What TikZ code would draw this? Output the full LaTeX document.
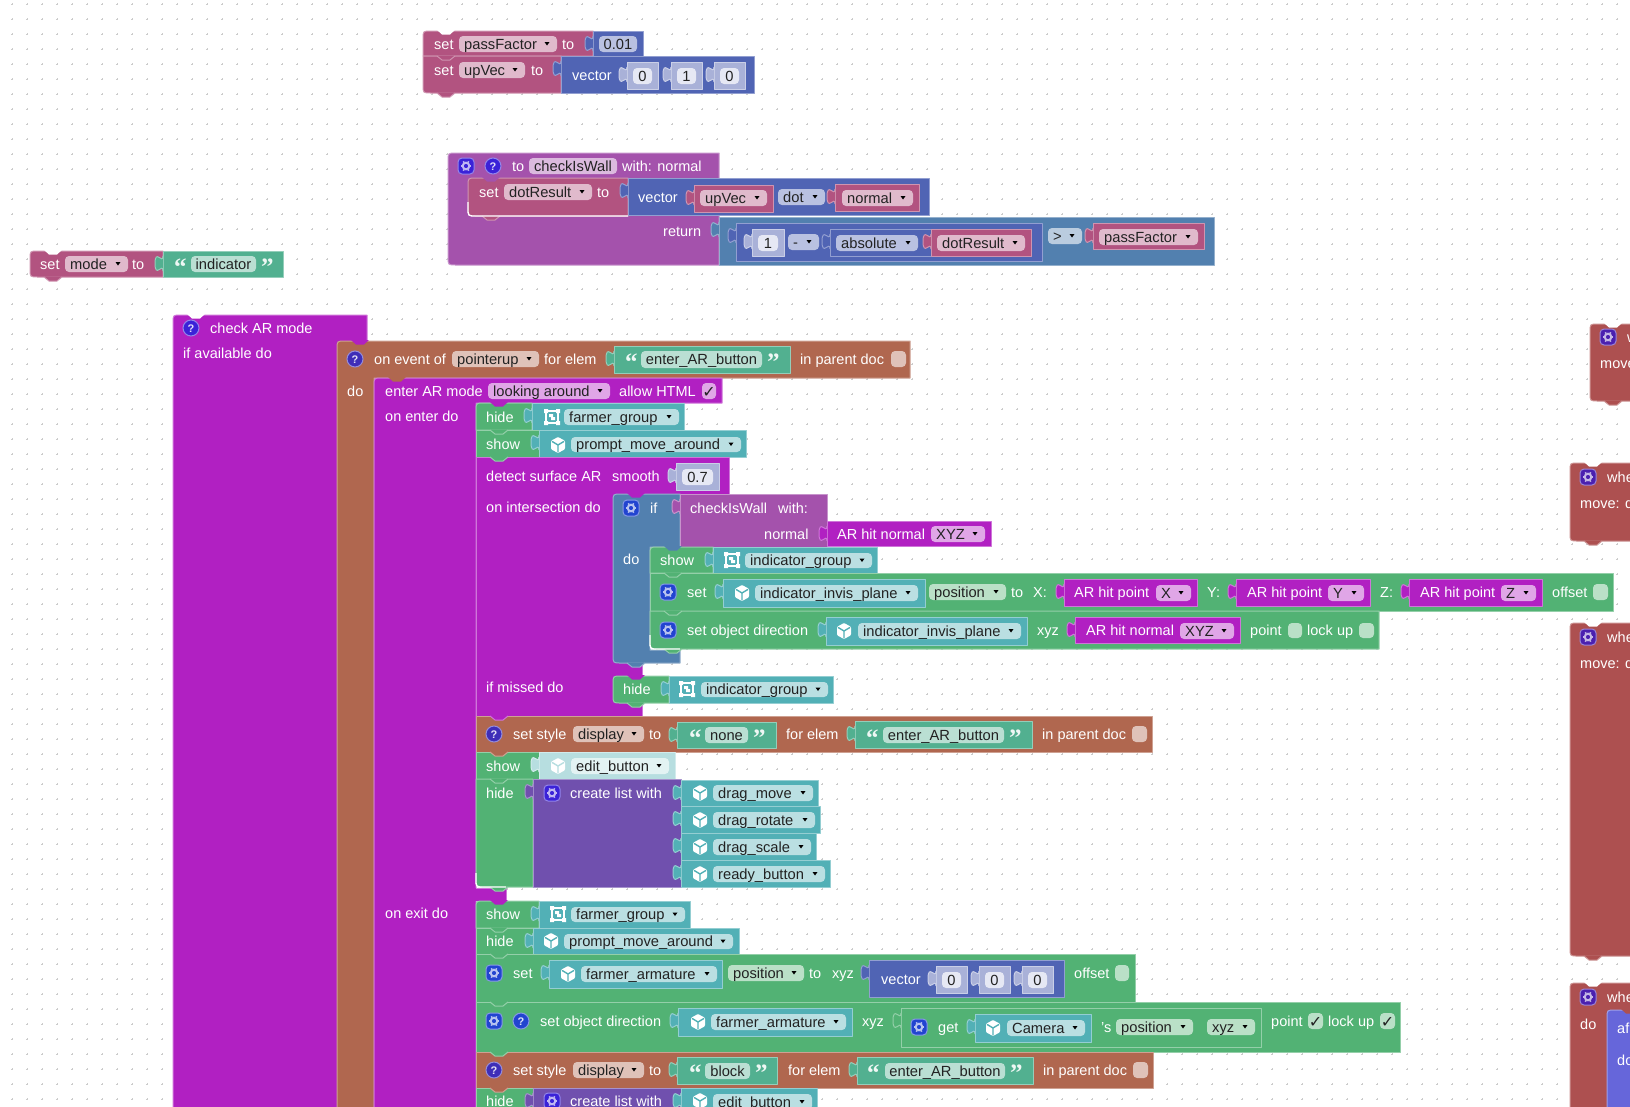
\documentclass[tikz,border=0pt]{standalone}
\usepackage{fontspec}
\setmainfont{Liberation Sans}
\newfontfamily\bkSerif{Liberation Serif}
\newfontfamily\bkSym{DejaVu Sans}
\definecolor{pk}{HTML}{B25380}
\definecolor{ma}{HTML}{5064B4}
\definecolor{lo}{HTML}{5280AF}
\definecolor{pr}{HTML}{A452AC}
\definecolor{ar}{HTML}{B120C2}
\definecolor{br}{HTML}{B0674F}
\definecolor{gn}{HTML}{52B274}
\definecolor{te}{HTML}{52B0B6}
\definecolor{st}{HTML}{52B090}
\definecolor{li}{HTML}{7050AE}
\definecolor{rd}{HTML}{AD5050}
\definecolor{bu}{HTML}{6666DA}
\definecolor{shad}{HTML}{A9B1D8}
\definecolor{shadF}{HTML}{E6E8F4}
\definecolor{teL}{HTML}{B7DEE0}
\definecolor{teLF}{HTML}{E3F3F3}
\definecolor{gearB}{HTML}{2244D0}
\definecolor{gearP}{HTML}{3A22D8}
\definecolor{gearR}{HTML}{4A20B0}
\definecolor{helpB}{HTML}{3E2EB8}
\definecolor{fieldtxt}{HTML}{222222}
\colorlet{pkF}{pk!40!white}
\colorlet{maF}{ma!40!white}
\colorlet{loF}{lo!40!white}
\colorlet{prF}{pr!40!white}
\colorlet{arF}{ar!40!white}
\colorlet{brF}{br!40!white}
\colorlet{gnF}{gn!40!white}
\colorlet{teF}{te!40!white}
\colorlet{stF}{st!40!white}
\tikzset{
  bk/.style={fill=#1, draw=#1!62!white, line width=1pt, line join=round},
  bktext/.style={anchor=base west, inner sep=0pt, font=\fontsize{14.5}{16}\selectfont},
  bkfield/.style={anchor=base west, inner sep=0pt, font=\fontsize{14.7}{16}\selectfont},
}
% block: colour x1 y1 x2 y2 top-left-radius bottom-left-radius
\newcommand{\bkB}[7]{\draw[bk=#1] (#4,#3) -- (#4,#5) -- ({#2+#7},#5) .. controls (#2,#5) .. (#2,{#5-#7}) -- (#2,{#3+#6}) .. controls (#2,#3) .. ({#2+#6},#3) -- cycle;}
% L-shaped block: colour x1 y1 x2 y2 column-x
\newcommand{\bkL}[6]{\draw[bk=#1] ({#2+8},#3) -- (#4,#3) -- (#4,#5) -- (#6,#5) -- (#6,1125) -- (#2,1125) -- (#2,{#3+8}) .. controls (#2,#3) .. ({#2+8},#3) -- cycle;}
% value plug on the left edge: colour x ytop
\newcommand{\bkP}[3]{\fill[#1] (#2,{#3+5}) .. controls (#2,{#3+14}) and ({#2-8},{#3-3}) .. ({#2-8},{#3+12.5}) .. controls ({#2-8},{#3+28}) and (#2,{#3+11}) .. (#2,{#3+20}) -- cycle;
 \draw[#1!62!white,line width=1pt] (#2,{#3+5}) .. controls (#2,{#3+14}) and ({#2-8},{#3-3}) .. ({#2-8},{#3+12.5}) .. controls ({#2-8},{#3+28}) and (#2,{#3+11}) .. (#2,{#3+20});}
% value block
\newcommand{\bkV}[5]{\bkB{#1}{#2}{#3}{#4}{#5}{0}{0}\bkP{#1}{#2}{#3}}
% statement bump below an edge / notch in a top edge: colour x y
\newcommand{\bkU}[3]{\fill[#1] ({#2+14},{#3-0.5}) -- ({#2+19},{#3+4}) -- ({#2+27},{#3+4}) -- ({#2+32},{#3-0.5}) -- cycle;
 \draw[#1!62!white,line width=1pt,line join=round] ({#2+14},#3) -- ({#2+19},{#3+4}) -- ({#2+27},{#3+4}) -- ({#2+32},#3);}
\newcommand{\bkT}[3]{\fill[#1] ({#2+14},{#3-1}) -- ({#2+32},{#3-1}) -- ({#2+27},{#3+3.5}) -- ({#2+19},{#3+3.5}) -- cycle;}
% white text
\newcommand{\bkX}[3]{\node[bktext,text=white] at (#1,{#2+5}) {#3};}
% dropdown: x1 x2 y1 y2 colour text
\newcommand{\bkD}[6]{\fill[#5,rounded corners=4pt] (#1,#3) rectangle (#2,#4);
 \node[bkfield,text=fieldtxt] at ({#1+5},{(#3+#4)/2+5}) {#6};
 \fill[black] ({#2-12.5},{(#3+#4)/2-2}) -- ({#2-7.5},{(#3+#4)/2-2}) -- ({#2-10},{(#3+#4)/2+1.5}) -- cycle;}
% text field: x1 x2 y1 y2 colour text
\newcommand{\bkE}[6]{\fill[#5,rounded corners=4pt] (#1,#3) rectangle (#2,#4);
 \node[anchor=base,inner sep=0pt,font=\fontsize{14.7}{16}\selectfont,text=fieldtxt] at ({(#1+#2)/2},{(#3+#4)/2+5}) {#6};}
% checkbox: x1 x2 y1 y2 colour mark
\newcommand{\bkK}[6]{\fill[#5,rounded corners=4pt] (#1,#3) rectangle (#2,#4);
 \node[anchor=base,inner sep=0pt,font=\bkSym\fontsize{16}{16}\selectfont,text=fieldtxt] at ({(#1+#2)/2},{(#3+#4)/2+6}) {#6};}
% number shadow block: x1 x2 y1 y2 text
\newcommand{\bkN}[5]{\bkV{shad}{#1}{#3}{#2}{#4}\bkE{#1+6}{#2-6}{#3+6}{#4-5}{shadF}{#5}}
% gear: x y colour
\newcommand{\bkG}[3]{\begin{scope}[shift={(#1,#2)}]
 \draw[fill=#3,draw=#3!55!white,line width=1pt,rounded corners=4pt] (-8,-8) rectangle (8,8);
 \draw[white!68!#3,line width=2pt] (0,0) circle (3.3pt);
 \foreach \a in {0,60,120,180,240,300}{\draw[white!68!#3,line width=1.6pt] (\a:4pt) -- (\a:5.4pt);}
 \end{scope}}
% help: x y colour
\newcommand{\bkH}[3]{\draw[fill=#3,draw=#3!55!white,line width=1pt] (#1,#2) circle (8pt);
 \node[anchor=base,inner sep=0pt,text=white!85!#3,font=\bfseries\fontsize{11}{12}\selectfont] at (#1,{#2+4}) {?};}
% cube: x y colour
\newcommand{\bkC}[3]{\begin{scope}[shift={(#1,#2)}]
 \fill[white,rounded corners=1pt] (0,-8) -- (7,-4.2) -- (7,4.2) -- (0,8) -- (-7,4.2) -- (-7,-4.2) -- cycle;
 \draw[#3,line width=1.4pt] (-6,-3.6) -- (0,0) -- (6,-3.6) (0,0) -- (0,7);
 \end{scope}}
% group: x y colour
\newcommand{\bkF}[3]{\begin{scope}[shift={(#1,#2)}]
 \draw[white,line width=2pt] (-6,-6) rectangle (6,6);
 \fill[white] (-8,-8) rectangle (-4,-4) (4,-8) rectangle (8,-4) (-8,4) rectangle (-4,8) (4,4) rectangle (8,8);
 \fill[white] (-3,-3) -- (1,-3) -- (1,0) -- (3,0) -- (3,3) -- (-1,3) -- (-1,0) -- (-3,0) -- cycle;
 \end{scope}}
% quotes: x y (x is the middle of the mark)
\newcommand{\bkQo}[2]{\node[anchor=base west,inner sep=0pt,text=white!90!st,font=\bkSerif\bfseries\fontsize{25}{26}\selectfont] at ({#1-6},{#2+11}) {“};}
\newcommand{\bkQc}[2]{\node[anchor=base west,inner sep=0pt,text=white!90!st,font=\bkSerif\bfseries\fontsize{25}{26}\selectfont] at ({#1-6},{#2+11}) {”};}
% white highlight along a bottom-left corner: x y length
\newcommand{\bkCorner}[3]{\draw[white,line width=1.3pt] (#1,{#2-14}) -- (#1,{#2-8}) .. controls (#1,#2) .. ({#1+8},#2) -- ({#1+#3},#2);}
\begin{document}
\begin{tikzpicture}[x=1pt,y=-1pt]
\useasboundingbox (0,0) rectangle (1630,1106);
\fill[white] (0,0) rectangle (1630,1106);
\clip (0,0) rectangle (1630,1106);
% grid of small crosses
\foreach \gy in {4.3,19.3,...,1100}{\draw[black!20,line width=0.6pt,dash pattern=on 2pt off 13pt] (11.3,\gy) -- (1630,\gy);}
\foreach \gx in {12.3,27.3,...,1625}{\draw[black!20,line width=0.6pt,dash pattern=on 2pt off 13pt] (\gx,3.3) -- (\gx,1106);}

% ---------- set passFactor / upVec
\bkB{pk}{423}{31}{593}{56}{8}{0}\bkT{white}{423}{31}
\bkB{pk}{423}{56}{561}{93}{0}{8}\bkU{pk}{423}{56}\bkU{pk}{423}{93}
\bkX{434}{44}{set}\bkD{459}{557}{36}{52}{pkF}{passFactor}\bkX{562}{44}{to}
\bkV{ma}{593}{31}{643}{56}\bkE{599}{637}{36}{52}{maF}{0.01}
\bkX{434}{70}{set}\bkD{459}{525}{62}{78}{pkF}{upVec}\bkX{531}{70}{to}
\bkV{ma}{561}{56}{754}{93}\bkX{572}{75}{vector}
\bkN{627}{658}{62}{89}{0}\bkN{671}{702}{62}{89}{1}\bkN{714}{745}{62}{89}{0}

% ---------- procedure checkIsWall
\bkB{pr}{448}{153}{719}{265}{8}{8}
\bkG{466}{166}{gearP}\bkH{493}{166}{gearP}\bkX{512}{166}{to}
\bkE{529}{617}{158}{174}{prF}{checkIsWall}\bkX{622}{166}{with: normal}
\bkB{pk}{468}{178}{628}{216}{8}{8}\bkT{pr}{468}{178}\bkU{pk}{468}{216}\bkCorner{468}{216}{160}
\bkX{479}{192}{set}\bkD{504}{592}{184}{200}{pkF}{dotResult}\bkX{597}{192}{to}
\bkV{ma}{628}{178}{929}{215}\bkX{638}{197}{vector}
\bkV{pk}{694}{185}{773}{212}\bkD{700}{767}{190}{206}{pkF}{upVec}
\bkD{778}{825}{189}{205}{maF}{dot}
\bkV{pk}{835}{184}{919}{211}\bkD{842}{913}{190}{206}{pkF}{normal}
\bkX{663}{231}{return}
\bkV{lo}{719}{217}{1214}{265}
\bkV{ma}{736}{223}{1042}{261}
\bkN{752}{784}{229}{256}{1}
\bkD{788}{819}{234}{250}{maF}{-}
\bkV{ma}{830}{229}{1031}{256}\bkD{836}{918}{235}{251}{maF}{absolute}
\bkV{pk}{931}{229}{1031}{256}\bkD{937}{1025}{235}{251}{pkF}{dotResult}
\bkD{1048}{1082}{228}{244}{loF}{>}
\bkV{pk}{1093}{223}{1204}{249}\bkD{1099}{1198}{229}{245}{pkF}{passFactor}

% ---------- set mode
\bkB{pk}{30}{251}{163}{277}{8}{8}\bkT{white}{30}{251}\bkU{pk}{30}{277}
\bkX{40}{264}{set}\bkD{65}{128}{256}{272}{pkF}{mode}\bkX{132}{264}{to}
\bkV{st}{163}{251}{283}{277}\bkQo{180}{264}\bkE{191}{256}{256}{272}{stF}{indicator}\bkQc{267}{264}

% ---------- check AR mode
\bkB{ar}{173}{315}{367}{1125}{8}{0}\bkT{white}{173}{315}
\bkH{191}{328}{gearP}\bkX{210}{328}{check AR mode}\bkX{183}{353}{if available do}

% ---------- on event
\bkL{br}{337}{341}{910}{378}{374}\bkT{ar}{337}{341}
\bkH{355}{359}{helpB}\bkX{374}{359}{on event of}\bkD{452}{539}{351}{367}{brF}{pointerup}\bkX{544}{359}{for elem}
\bkV{st}{614}{346}{790}{373}\bkQo{631}{359}\bkE{641}{762}{351}{368}{stF}{enter\_AR\_button}\bkQc{773}{359}
\bkX{800}{359}{in parent doc}\bkK{891}{906}{351}{367}{brF}{}
\bkX{347}{391}{do}

% ---------- enter AR mode
\bkL{ar}{374}{378}{722}{403}{476}\bkT{br}{374}{378}
\bkX{385}{391}{enter AR mode}\bkD{488}{610}{383}{399}{arF}{looking around}\bkX{619}{391}{allow HTML}
\bkK{702}{716}{383}{399}{arF}{✓}
\bkX{385}{416}{on enter do}
\bkX{385}{913}{on exit do}

% hide farmer_group
\bkB{gn}{476}{403}{532}{430}{8}{0}\bkT{ar}{476}{403}
\bkX{486}{417}{hide}
\bkV{te}{532}{403}{684}{430}\bkF{552}{417}{te}\bkD{564}{679}{409}{425}{teF}{farmer\_group}
% show prompt
\bkB{gn}{476}{430}{539}{457}{0}{0}\bkU{gn}{476}{430}
\bkX{486}{444}{show}
\bkV{te}{539}{430}{746}{457}\bkC{558}{445}{te}\bkD{571}{741}{437}{452}{teF}{prompt\_move\_around}

% detect surface
\draw[bk=ar] (476,457) -- (729,457) -- (729,494) -- (642,494) -- (642,716) -- (476,716) -- cycle;
\bkU{gn}{476}{457}
\bkX{486}{476}{detect surface AR}\bkX{612}{476}{smooth}
\bkN{676}{719}{463}{490}{0.7}
\bkX{486}{507}{on intersection do}\bkX{486}{687}{if missed do}

% if
\draw[bk=lo] (621,494) -- (680,494) -- (680,547) -- (650,547) -- (650,650) -- (680,650) -- (680,663) -- (621,663) .. controls (613,663) .. (613,655) -- (613,502) .. controls (613,494) .. (621,494) -- cycle;
\bkT{ar}{613}{494}
\bkG{631}{508}{gearB}\bkX{650}{508}{if}\bkX{623}{559}{do}
\bkV{pr}{680}{494}{827}{547}\bkX{690}{508}{checkIsWall}\bkX{778}{508}{with:}\bkX{764}{534}{normal}
\bkV{ar}{827}{521}{991}{546}\bkX{837}{534}{AR hit normal}\bkD{931}{985}{526}{542}{arF}{XYZ}
\bkU{lo}{613}{663}

% show indicator
\bkB{gn}{650}{547}{713}{573}{8}{0}\bkT{lo}{650}{547}\bkX{660}{560}{show}
\bkV{te}{713}{547}{877}{573}\bkF{732}{560}{te}\bkD{745}{872}{553}{568}{teF}{indicator\_group}
% set indicator position
\bkB{gn}{650}{573}{1613}{611}{0}{0}\bkU{gn}{650}{573}
\bkG{668}{592}{gearB}\bkX{687}{592}{set}
\bkV{te}{723}{579}{925}{607}\bkC{742}{593}{te}\bkD{755}{918}{585}{601}{teF}{indicator\_invis\_plane}
\bkD{929}{1006}{584}{600}{gnF}{position}\bkX{1011}{592}{to}\bkX{1033}{592}{X:}
\bkV{ar}{1064}{579}{1197}{606}\bkX{1074}{592}{AR hit point}\bkD{1156}{1191}{585}{601}{arF}{X}
\bkX{1207}{592}{Y:}
\bkV{ar}{1236}{579}{1370}{606}\bkX{1247}{592}{AR hit point}\bkD{1328}{1364}{585}{601}{arF}{Y}
\bkX{1380}{592}{Z:}
\bkV{ar}{1409}{579}{1542}{606}\bkX{1420}{592}{AR hit point}\bkD{1501}{1536}{585}{601}{arF}{Z}
\bkX{1552}{592}{offset}\bkK{1593}{1608}{584}{600}{gnF}{}
% set object direction
\bkB{gn}{650}{611}{1379}{649}{0}{8}\bkU{gn}{650}{611}\bkU{gn}{650}{649}\bkCorner{650}{649}{30}
\bkG{668}{630}{gearB}\bkX{687}{630}{set object direction}
\bkV{te}{826}{617}{1027}{645}\bkC{844}{631}{te}\bkD{858}{1021}{623}{639}{teF}{indicator\_invis\_plane}
\bkX{1037}{630}{xyz}
\bkV{ar}{1075}{617}{1240}{643}\bkX{1086}{630}{AR hit normal}\bkD{1180}{1234}{623}{639}{arF}{XYZ}
\bkX{1250}{630}{point}\bkK{1288}{1302}{623}{638}{gnF}{}\bkX{1307}{630}{lock up}\bkK{1359}{1374}{623}{638}{gnF}{}

% hide indicator
\bkB{gn}{613}{676}{669}{703}{8}{8}\bkT{ar}{613}{676}\bkU{gn}{613}{703}\bkX{623}{689}{hide}
\bkV{te}{669}{676}{833}{703}\bkF{687}{689}{te}\bkD{701}{828}{682}{697}{teF}{indicator\_group}

% set style none
\bkB{br}{476}{716}{1152}{752}{0}{0}\bkU{ar}{476}{716}
\bkH{494}{734}{helpB}\bkX{513}{734}{set style}\bkD{573}{644}{726}{742}{brF}{display}\bkX{649}{734}{to}
\bkV{st}{677}{722}{776}{748}\bkQo{695}{735}\bkE{705}{748}{727}{743}{stF}{none}\bkQc{759}{735}
\bkX{786}{734}{for elem}
\bkV{st}{855}{721}{1032}{748}\bkQo{872}{735}\bkE{883}{1004}{727}{743}{stF}{enter\_AR\_button}\bkQc{1015}{735}
\bkX{1042}{734}{in parent doc}\bkK{1132}{1147}{726}{742}{brF}{}
% show edit_button
\bkB{gn}{476}{752}{539}{779}{0}{0}\bkU{br}{476}{752}\bkX{486}{766}{show}
\bkV{teL}{539}{752}{675}{779}\bkC{558}{766}{teL}\bkD{571}{669}{758}{774}{teLF}{edit\_button}
% hide list
\bkB{gn}{476}{779}{533}{887}{0}{8}\bkU{gn}{476}{779}\bkX{486}{793}{hide}
\bkV{li}{533}{779}{681}{887}\bkG{552}{793}{gearP}\bkX{570}{793}{create list with}
\bkV{te}{681}{780}{818}{806}\bkC{700}{793}{te}\bkD{713}{813}{785}{801}{teF}{drag\_move}
\bkV{te}{681}{806}{820}{833}\bkC{700}{820}{te}\bkD{713}{815}{812}{828}{teF}{drag\_rotate}
\bkV{te}{681}{833}{816}{860}\bkC{700}{847}{te}\bkD{713}{811}{839}{855}{teF}{drag\_scale}
\bkV{te}{681}{860}{830}{887}\bkC{700}{874}{te}\bkD{713}{825}{866}{882}{teF}{ready\_button}
% purple between statements
\fill[ar] (475,887.5) rectangle (506,901);
\draw[ar!62!white,line width=1pt] (476,888) -- (506,888) -- (506,901);
\bkU{gn}{476}{887}\bkCorner{476}{887}{30}

% on exit: show farmer_group
\bkB{gn}{476}{901}{539}{928}{8}{0}\bkT{ar}{476}{901}\bkX{486}{914}{show}
\bkV{te}{539}{901}{690}{928}\bkF{558}{914}{te}\bkD{571}{685}{907}{922}{teF}{farmer\_group}
% hide prompt
\bkB{gn}{476}{928}{533}{954}{0}{0}\bkU{gn}{476}{928}\bkX{486}{941}{hide}
\bkV{te}{533}{928}{739}{954}\bkC{551}{941}{te}\bkD{564}{733}{934}{949}{teF}{prompt\_move\_around}
% set farmer position
\bkB{gn}{476}{954}{1135}{1002}{0}{0}\bkU{gn}{476}{954}
\bkG{494}{973}{gearB}\bkX{513}{973}{set}
\bkV{te}{549}{960}{722}{988}\bkC{568}{974}{te}\bkD{581}{717}{966}{982}{teF}{farmer\_armature}
\bkD{728}{804}{965}{981}{gnF}{position}\bkX{809}{973}{to}\bkX{832}{973}{xyz}
\bkV{ma}{869}{960}{1064}{997}\bkX{881}{979}{vector}
\bkN{936}{967}{966}{993}{0}\bkN{979}{1010}{966}{993}{0}\bkN{1022}{1053}{966}{993}{0}
\bkX{1074}{973}{offset}\bkK{1115}{1129}{965}{981}{gnF}{}
% set farmer direction
\bkB{gn}{476}{1002}{1400}{1052}{0}{0}\bkU{gn}{476}{1002}
\bkG{494}{1021}{gearB}\bkH{521}{1021}{gearB}\bkX{540}{1021}{set object direction}
\bkV{te}{678}{1008}{852}{1036}\bkC{698}{1022}{te}\bkD{711}{846}{1014}{1030}{teF}{farmer\_armature}
\bkX{862}{1021}{xyz}
\bkV{gn}{901}{1008}{1261}{1047}\bkG{919}{1027}{gearB}\bkX{938}{1027}{get}
\bkV{te}{975}{1014}{1091}{1042}\bkC{993}{1028}{te}\bkD{1007}{1085}{1020}{1036}{teF}{Camera}
\bkX{1101}{1027}{'s}\bkD{1116}{1193}{1019}{1035}{gnF}{position}\bkD{1207}{1255}{1019}{1035}{gnF}{xyz}
\bkX{1271}{1021}{point}\bkK{1308}{1323}{1013}{1029}{gnF}{✓}\bkX{1328}{1021}{lock up}\bkK{1380}{1395}{1013}{1029}{gnF}{✓}
% set style block
\bkB{br}{476}{1052}{1153}{1088}{0}{0}\bkU{gn}{476}{1052}
\bkH{494}{1070}{helpB}\bkX{513}{1070}{set style}\bkD{573}{644}{1062}{1078}{brF}{display}\bkX{649}{1070}{to}
\bkV{st}{677}{1057}{777}{1084}\bkQo{695}{1070}\bkE{705}{750}{1063}{1079}{stF}{block}\bkQc{761}{1070}
\bkX{788}{1070}{for elem}
\bkV{st}{857}{1057}{1033}{1084}\bkQo{873}{1070}\bkE{885}{1005}{1063}{1079}{stF}{enter\_AR\_button}\bkQc{1016}{1070}
\bkX{1043}{1070}{in parent doc}\bkK{1133}{1148}{1062}{1078}{brF}{}
% hide list 2
\bkB{gn}{476}{1088}{533}{1125}{0}{0}\bkU{br}{476}{1088}\bkX{486}{1101}{hide}
\bkV{li}{533}{1088}{681}{1125}\bkG{552}{1101}{gearP}\bkX{570}{1101}{create list with}
\bkV{te}{681}{1088}{817}{1115}\bkC{700}{1101}{te}\bkD{713}{812}{1094}{1110}{teF}{edit\_button}

% ---------- right-hand blocks
\bkB{rd}{1590}{324}{1640}{401}{8}{8}\bkT{white}{1590}{324}\bkU{rd}{1590}{401}
\bkG{1608}{337}{gearR}\bkX{1627}{337}{w}\bkX{1600}{363}{move}
\bkB{rd}{1570}{463}{1640}{541}{8}{8}\bkT{white}{1570}{463}\bkU{rd}{1570}{541}
\bkG{1588}{477}{gearR}\bkX{1607}{477}{whe}\bkX{1580}{503}{move: d}
\bkB{rd}{1570}{623}{1640}{956}{8}{8}\bkT{white}{1570}{623}\bkU{rd}{1570}{956}
\bkG{1588}{637}{gearR}\bkX{1607}{637}{whe}\bkX{1580}{663}{move: d}
\bkB{rd}{1570}{983}{1640}{1125}{8}{0}\bkT{white}{1570}{983}
\bkG{1588}{997}{gearR}\bkX{1607}{997}{whe}\bkX{1580}{1024}{do}
\bkB{bu}{1607}{1010}{1640}{1125}{8}{0}\bkT{rd}{1607}{1010}
\bkX{1617}{1028}{af}\bkX{1617}{1060}{do}
\end{tikzpicture}
\end{document}
